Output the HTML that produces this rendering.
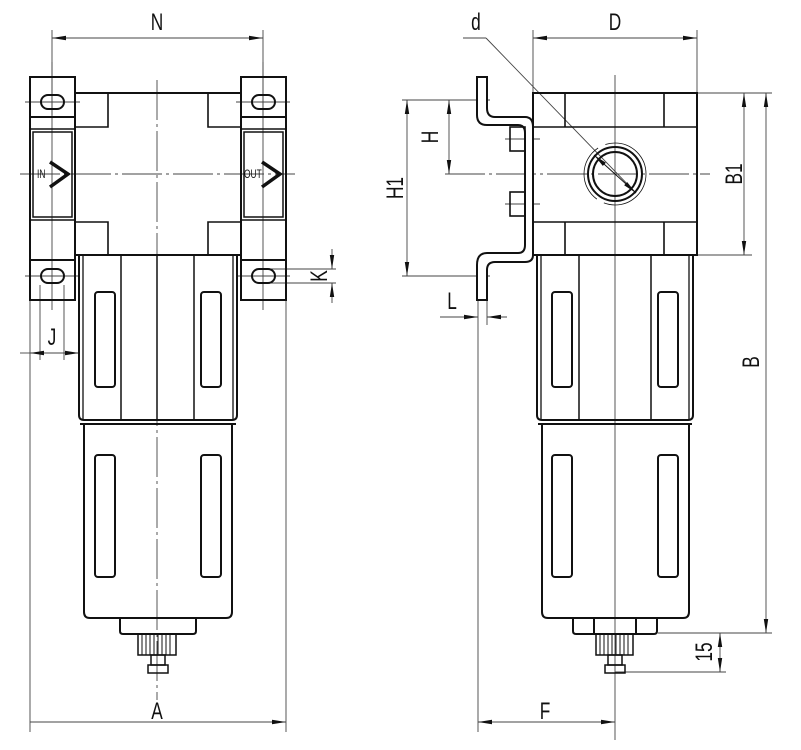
<!DOCTYPE html>
<html><head><meta charset="utf-8"><style>
html,body{margin:0;padding:0;background:#fff}
svg{display:block}
text{font-family:"Liberation Sans",sans-serif;font-size:24px;fill:#111}
</style></head><body>
<svg width="801" height="750" viewBox="0 0 801 750" xmlns="http://www.w3.org/2000/svg">
<defs>
<marker id="ar" viewBox="0 0 14 6" refX="14" refY="3" markerWidth="14" markerHeight="6" markerUnits="userSpaceOnUse" orient="auto-start-reverse"><path d="M0,0.8 L14,3 L0,5.2 Z" fill="#111"/></marker>
</defs>
<g fill="none" stroke="#444" stroke-width="0.9">
<line x1="52" y1="30" x2="52" y2="115"/><line x1="263" y1="30" x2="263" y2="115"/>
<line x1="52" y1="38" x2="263" y2="38" marker-start="url(#ar)" marker-end="url(#ar)"/>
<line x1="30" y1="300" x2="30" y2="732"/><line x1="286" y1="300" x2="286" y2="732"/>
<line x1="30" y1="722" x2="286" y2="722" marker-end="url(#ar)"/>
<line x1="40" y1="285" x2="40" y2="360"/><line x1="64" y1="285" x2="64" y2="360"/>
<line x1="79" y1="300" x2="79" y2="360"/>
<line x1="20" y1="353" x2="30" y2="353"/>
<line x1="30" y1="353" x2="79" y2="353" marker-start="url(#ar)" marker-end="url(#ar)"/>
<line x1="270" y1="269" x2="336" y2="269"/><line x1="270" y1="283" x2="336" y2="283"/>
<line x1="332" y1="249" x2="332" y2="269" marker-end="url(#ar)"/>
<line x1="332" y1="303" x2="332" y2="283" marker-end="url(#ar)"/>
<line x1="157" y1="80" x2="157" y2="700" stroke-dasharray="40,4,3,4"/>
<line x1="20" y1="174" x2="295" y2="174" stroke-dasharray="40,4,3,4"/>
<line x1="52" y1="62" x2="52" y2="310"/><line x1="263" y1="62" x2="263" y2="310"/>
<line x1="25" y1="102" x2="80" y2="102"/><line x1="236" y1="102" x2="290" y2="102"/>
<line x1="25" y1="276" x2="80" y2="276"/><line x1="236" y1="276" x2="290" y2="276"/>
<line x1="533" y1="30" x2="533" y2="93"/><line x1="697" y1="30" x2="697" y2="93"/>
<line x1="533" y1="38" x2="697" y2="38" marker-start="url(#ar)" marker-end="url(#ar)"/>
<line x1="463" y1="38" x2="486" y2="38"/>
<line x1="486" y1="38" x2="636" y2="193"/>
<line x1="697" y1="93" x2="772" y2="93"/><line x1="697" y1="255" x2="752" y2="255"/>
<line x1="744" y1="93" x2="744" y2="255" marker-start="url(#ar)" marker-end="url(#ar)"/>
<line x1="766" y1="93" x2="766" y2="633" marker-start="url(#ar)" marker-end="url(#ar)"/>
<line x1="658" y1="633" x2="772" y2="633"/><line x1="615" y1="672" x2="726" y2="672"/>
<line x1="720" y1="633" x2="720" y2="672" marker-start="url(#ar)" marker-end="url(#ar)"/>
<line x1="402" y1="100" x2="490" y2="100"/><line x1="402" y1="276" x2="490" y2="276"/>
<line x1="407" y1="100" x2="407" y2="276" marker-start="url(#ar)" marker-end="url(#ar)"/>
<line x1="449" y1="100" x2="449" y2="174" marker-start="url(#ar)" marker-end="url(#ar)"/>
<line x1="445" y1="174" x2="710" y2="174" stroke-dasharray="40,4,3,4"/>
<line x1="615" y1="75" x2="615" y2="740"/>
<line x1="478" y1="300" x2="478" y2="732"/>
<line x1="487" y1="300" x2="487" y2="325"/>
<line x1="440" y1="317" x2="478" y2="317" marker-end="url(#ar)"/>
<line x1="507" y1="317" x2="487" y2="317" marker-end="url(#ar)"/>
<line x1="478" y1="722" x2="615" y2="722" marker-start="url(#ar)" marker-end="url(#ar)"/>
<line x1="505" y1="139" x2="540" y2="139"/><line x1="505" y1="204" x2="540" y2="204"/>
</g>

<g fill="none" stroke="#111" stroke-width="2">
<rect x="30" y="77" width="45" height="223"/>
<line x1="30" y1="117" x2="75" y2="117"/><line x1="30" y1="260" x2="75" y2="260"/>
<rect x="30" y="129" width="45" height="91" stroke-width="1.5"/>
<rect x="33" y="132" width="39" height="85" stroke-width="1.5"/>
<rect x="241" y="77" width="45" height="223"/>
<line x1="241" y1="117" x2="286" y2="117"/><line x1="241" y1="260" x2="286" y2="260"/>
<rect x="241" y="129" width="45" height="91" stroke-width="1.5"/>
<rect x="244" y="132" width="39" height="85" stroke-width="1.5"/>
<rect x="41" y="95" width="23" height="14" rx="7"/>
<rect x="41" y="269" width="23" height="14" rx="7"/>
<rect x="252" y="95" width="23" height="14" rx="7"/>
<rect x="252" y="269" width="23" height="14" rx="7"/>
<path d="M50,162 L68,174 L50,187" stroke-width="3.5"/>
<path d="M262,162 L280,174 L262,187" stroke-width="3.5"/>
<rect x="75" y="93" width="166" height="162"/>
<path d="M75,127 H108 V93 M241,127 H208 V93 M75,222 H108 V255 M241,222 H208 V255" stroke-width="1.6"/>
<path d="M79,255 V415 Q79,420 84,420 H232 Q237,420 237,415 V255" />
<line x1="83" y1="255" x2="83" y2="420" stroke-width="1.3"/>
<line x1="233" y1="255" x2="233" y2="420" stroke-width="1.3"/>
<line x1="121" y1="255" x2="121" y2="420" stroke-width="1.5"/>
<line x1="194" y1="255" x2="194" y2="420" stroke-width="1.5"/>
<line x1="157" y1="255" x2="157" y2="420" stroke-width="1.5"/>
<rect x="95" y="292" width="20" height="95" rx="3"/>
<rect x="201" y="292" width="20" height="95" rx="3"/>
<path d="M80,424 H236 M84,424 V612 Q84,618 90,618 H226 Q232,618 232,612 V424"/>
<rect x="95" y="455" width="20" height="122" rx="3"/>
<rect x="201" y="455" width="20" height="122" rx="3"/>
<path d="M120,618 V631 Q120,634 123,634 H193 Q196,634 196,631 V618"/>
<rect x="138" y="634" width="38" height="21" stroke-width="1.5"/>
<path d="M142,634V655M146,634V655M150,634V655M154,634V655M158,634V655M162,634V655M166,634V655M170,634V655" stroke-width="1"/>
<rect x="151" y="655" width="14" height="10" stroke-width="1.5"/>
<rect x="148" y="665" width="20" height="8" stroke-width="1.5"/>

<path d="M477,77 H487 V108 Q487,117 495,117 H525 Q533,117 533,127 V255 Q533,262 525,262 H495 Q487,262 487,270 V300 H477 V265 Q477,253 487,253 H518 Q525,253 525,245 V133 Q525,125 518,125 H487 Q477,125 477,115 Z" fill="#fff"/>
<rect x="510" y="127" width="15" height="24" stroke-width="1.6"/>
<rect x="510" y="192" width="15" height="24" stroke-width="1.6"/>
<rect x="533" y="93" width="164" height="162"/>
<path d="M533,127 H697 M533,222 H697 M565,93 V127 M664,93 V127 M565,222 V255 M664,222 V255" stroke-width="1.6"/>
<circle cx="615" cy="174" r="27"/>
<circle cx="615" cy="174" r="22"/>
<circle cx="615" cy="174" r="31" stroke-width="0.8" stroke-dasharray="60,8"/>
<path d="M537,255 V415 Q537,420 542,420 H688 Q693,420 693,415 V255"/>
<line x1="541" y1="255" x2="541" y2="420" stroke-width="1.3"/>
<line x1="689" y1="255" x2="689" y2="420" stroke-width="1.3"/>
<line x1="579" y1="255" x2="579" y2="420" stroke-width="1.5"/>
<line x1="651" y1="255" x2="651" y2="420" stroke-width="1.5"/>
<rect x="552" y="292" width="20" height="95" rx="3"/>
<rect x="658" y="292" width="20" height="95" rx="3"/>
<path d="M538,424 H692 M542,424 V612 Q542,618 548,618 H683 Q689,618 689,612 V424"/>
<rect x="552" y="455" width="20" height="122" rx="3"/>
<rect x="658" y="455" width="20" height="122" rx="3"/>
<path d="M573,618 V631 Q573,634 576,634 H654 Q657,634 657,631 V618 M594,618 V634 M636,618 V634"/>
<rect x="596" y="634" width="37" height="21" stroke-width="1.5"/>
<path d="M600,634V655M604,634V655M608,634V655M612,634V655M616,634V655M620,634V655M624,634V655M628,634V655" stroke-width="1"/>
<rect x="608" y="655" width="14" height="10" stroke-width="1.5"/>
<rect x="605" y="665" width="20" height="8" stroke-width="1.5"/>
</g>
<line x1="636" y1="193" x2="594" y2="155" stroke="#111" stroke-width="1" marker-start="url(#ar)" marker-end="url(#ar)"/>

<g>
<text x="157" y="30" text-anchor="middle" transform="translate(157 0) scale(0.72 1) translate(-157 0)">N</text>
<text x="615" y="30" text-anchor="middle" transform="translate(615 0) scale(0.72 1) translate(-615 0)">D</text>
<text x="476" y="30" text-anchor="middle" transform="translate(476 0) scale(0.72 1) translate(-476 0)">d</text>
<text x="157" y="719" text-anchor="middle" transform="translate(157 0) scale(0.72 1) translate(-157 0)">A</text>
<text x="545" y="719" text-anchor="middle" transform="translate(545 0) scale(0.72 1) translate(-545 0)">F</text>
<text x="52" y="345" text-anchor="middle" transform="translate(52 0) scale(0.72 1) translate(-52 0)">J</text>
<text x="452" y="309" text-anchor="middle" transform="translate(452 0) scale(0.72 1) translate(-452 0)">L</text>
<text transform="translate(327 276) rotate(-90) scale(0.72 1)" text-anchor="middle">K</text>
<text transform="translate(438 137) rotate(-90) scale(0.72 1)" text-anchor="middle">H</text>
<text transform="translate(403 188) rotate(-90) scale(0.72 1)" text-anchor="middle">H1</text>
<text transform="translate(742 174) rotate(-90) scale(0.72 1)" text-anchor="middle">B1</text>
<text transform="translate(759 362) rotate(-90) scale(0.72 1)" text-anchor="middle">B</text>
<text transform="translate(712 652) rotate(-90) scale(0.72 1)" text-anchor="middle">15</text>
<text x="37" y="178" style="font-size:12px" transform="translate(37 0) scale(0.7 1) translate(-37 0)">IN</text>
<text x="244" y="178" style="font-size:12px" transform="translate(244 0) scale(0.7 1) translate(-244 0)">OUT</text>
</g>
</svg>
</body></html>
